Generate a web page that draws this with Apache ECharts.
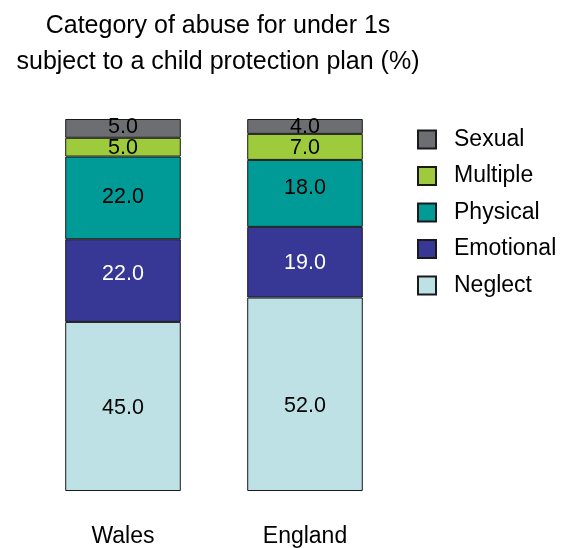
<!DOCTYPE html>
<html>
<head>
<meta charset="utf-8">
<script src="https://cdn.jsdelivr.net/npm/echarts@6/dist/echarts.min.js"></script>
<style>
  html, body { margin: 0; padding: 0; background: #fff; }
  #chart { width: 563px; height: 548px; }
</style>
</head>
<body>
<div id="chart"></div>
<script>
const categories = ['Wales', 'England']
const seriesNames = ['Neglect', 'Emotional', 'Physical', 'Multiple', 'Sexual']
const neglect = [45, 52]
const emotional = [22, 19]
const physical = [22, 18]
const multiple = [5, 7]
const sexual = [5, 4]

const colors = ['#bde1e4', '#373795', '#009a97', '#9dcb3c', '#6d6e71']
const labelColors = ['#000', '#fff', '#000', '#000', '#000']
// vertical nudges of the value labels, as placed in the original (px)
const labelNudge = [[2, 12], [-6, 1], [-1, -5], [1, 1], [-1, 1]]
const allValues = [neglect, emotional, physical, multiple, sexual]

// 100% stacked: each bar scaled to its own total, labels keep raw value
const totals = categories.map((c, i) => allValues.reduce((s, arr) => s + arr[i], 0))

const chart = echarts.init(document.getElementById('chart'))

const series = allValues.map((vals, k) => ({
  name: seriesNames[k],
  type: 'bar',
  stack: 'total',
  barCategoryGap: '36.5%',
  data: vals.map((v, i) => ({
    value: v / totals[i] * 100,
    raw: v,
    label: { offset: [0, labelNudge[k][i]] }
  })),
  itemStyle: {
    color: colors[k],
    borderColor: '#1a1a1a',
    borderWidth: 1
  },
  label: {
    show: true,
    position: 'inside',
    fontFamily: 'Liberation Sans',
    fontSize: 21.5,
    color: labelColors[k],
    formatter: p => p.data.raw.toFixed(1)
  }
}))

chart.setOption({
  animation: false,
  title: {
    text: 'Category of abuse for under 1s\nsubject to a child protection plan (%)',
    left: 213,
    textAlign: 'center',
    top: 3,
    textStyle: {
      fontFamily: 'Liberation Sans',
      fontWeight: 'normal',
      fontSize: 25,
      lineHeight: 36,
      color: '#000'
    }
  },
  legend: {
    data: ['Sexual', 'Multiple', 'Physical', 'Emotional', 'Neglect'],
    orient: 'vertical',
    left: 412,
    top: 123,
    itemWidth: 18,
    itemHeight: 18,
    itemGap: 13.5,
    icon: 'rect',
    textStyle: {
      fontFamily: 'Liberation Sans',
      fontSize: 23,
      color: '#000',
      padding: [0, 0, 0, 13]
    }
  },
  grid: {
    left: 32,
    top: 119,
    width: 364,
    height: 375,
    containLabel: false
  },
  xAxis: {
    type: 'category',
    data: categories,
    axisLine: { show: false },
    axisTick: { show: false },
    axisLabel: {
      margin: 34,
      fontFamily: 'Liberation Sans',
      fontSize: 23,
      color: '#000'
    }
  },
  yAxis: {
    type: 'value',
    min: 0,
    max: 100,
    show: false
  },
  series: series
})
</script>
</body>
</html>
